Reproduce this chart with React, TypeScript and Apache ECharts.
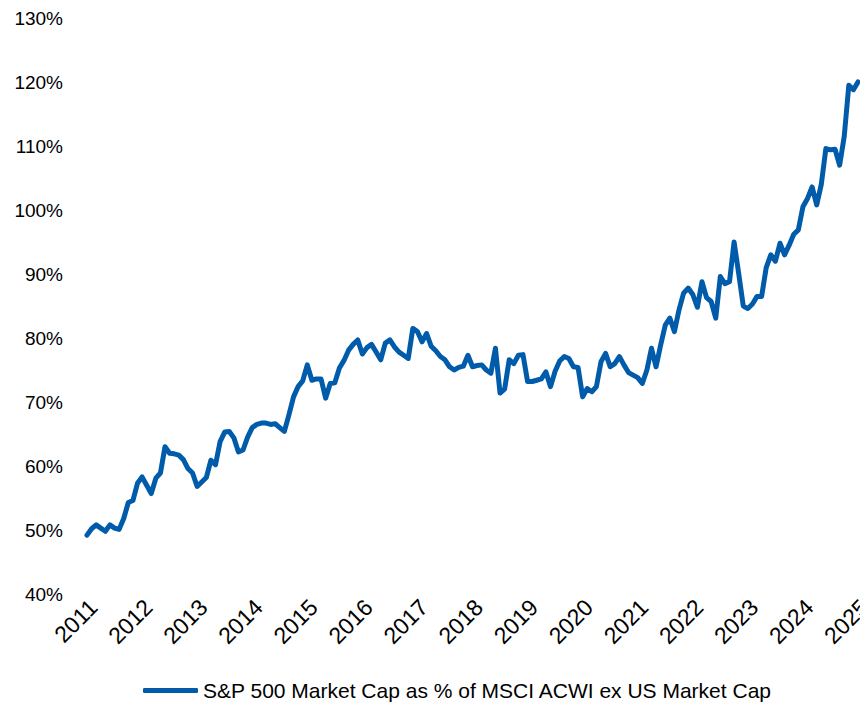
import React, { useEffect, useRef } from "react";
import * as echarts from "echarts";

const startYear = 2011;
const yearLabels = ["2011","2012","2013","2014","2015","2016","2017","2018","2019","2020","2021","2022","2023","2024","2025"];
const seriesName = "S&P 500 Market Cap as % of MSCI ACWI ex US Market Cap";

// Monthly values, Jan 2011 .. Jan 2025 (percent)
const values2011 = [49.2, 50.2, 50.8, 50.3, 49.8, 50.8, 50.3, 50.1, 51.8, 54.3, 54.6, 57.3];
const values2012 = [58.3, 57.0, 55.7, 58.1, 58.9, 63.0, 62.0, 61.9, 61.7, 61.0, 59.6, 58.9];
const values2013 = [56.8, 57.5, 58.2, 60.9, 60.2, 63.8, 65.3, 65.4, 64.4, 62.2, 62.5, 64.5];
const values2014 = [66.0, 66.5, 66.7, 66.7, 66.5, 66.6, 66.0, 65.4, 68.0, 70.8, 72.4, 73.3];
const values2015 = [75.8, 73.4, 73.6, 73.6, 70.6, 72.9, 73.0, 75.3, 76.5, 78.1, 79.0, 79.7];
const values2016 = [77.5, 78.5, 79.0, 77.8, 76.6, 79.2, 79.7, 78.6, 77.8, 77.3, 76.8, 81.5];
const values2017 = [81.0, 79.4, 80.7, 78.7, 78.0, 77.1, 76.6, 75.5, 75.0, 75.4, 75.6, 77.3];
const values2018 = [75.5, 75.7, 75.8, 75.0, 74.5, 78.4, 71.4, 72.0, 76.6, 76.0, 77.3, 77.4];
const values2019 = [73.2, 73.2, 73.4, 73.6, 74.7, 72.4, 74.8, 76.4, 77.1, 76.8, 75.5, 75.4];
const values2020 = [70.8, 72.1, 71.6, 72.4, 76.3, 77.6, 75.5, 76.0, 77.1, 75.8, 74.6, 74.2];
const values2021 = [73.8, 72.9, 75.0, 78.4, 75.5, 78.9, 82.0, 83.1, 81.0, 84.4, 87.0, 87.8];
const values2022 = [86.8, 84.8, 88.8, 86.3, 85.7, 83.1, 89.6, 88.5, 88.8, 95.0, 90.1, 85.0];
const values2023 = [84.6, 85.3, 86.5, 86.5, 91.0, 93.0, 92.0, 94.8, 93.0, 94.5, 96.2, 96.9];
const values2024 = [100.5, 101.8, 103.6, 100.8, 104.0, 109.6, 109.4, 109.5, 107.0, 111.5, 119.5, 118.8];
const values2025 = [120.0];

const values = [
  ...values2011, ...values2012, ...values2013, ...values2014, ...values2015,
  ...values2016, ...values2017, ...values2018, ...values2019, ...values2020,
  ...values2021, ...values2022, ...values2023, ...values2024, ...values2025,
];

const categories = values.map((_, i) => {
  const y = startYear + Math.floor(i / 12);
  const m = (i % 12) + 1;
  return `${y}-${m < 10 ? "0" + m : m}`;
});

const FONT = "Liberation Sans";

export default function App() {
  const ref = useRef<HTMLDivElement>(null);
  useEffect(() => {
    document.body.style.margin = "0";
    document.body.style.overflow = "hidden";
    if (!ref.current) return;
    const chart = echarts.init(ref.current, null, { renderer: "svg" });
    chart.setOption({
      animation: false,
      backgroundColor: "#ffffff",
      textStyle: { fontFamily: FONT },
      grid: {
        left: 87,
        right: 2,
        top: 18,
        bottom: 114,
        containLabel: false,
        outerBoundsMode: "none",
      },
      legend: {
        top: 680,
        left: 143,
        padding: 0,
        icon: "roundRect",
        itemWidth: 55,
        itemHeight: 5,
        itemGap: 10,
        textStyle: { fontFamily: FONT, fontSize: 21, color: "#000" },
        data: [seriesName],
      },
      xAxis: {
        type: "category",
        data: categories,
        boundaryGap: false,
        axisLine: { show: false },
        axisTick: { show: false },
        splitLine: { show: false },
        axisLabel: {
          interval: (idx: number) => idx % 12 === 0,
          formatter: (v: string) => {
            const y = v.slice(0, 4);
            return yearLabels.includes(y) ? y : "";
          },
          rotate: 45,
          margin: 3,
          verticalAlign: "top",
          lineHeight: 18,
          fontSize: 23,
          color: "#000",
          fontFamily: FONT,
        },
      },
      yAxis: {
        type: "value",
        min: 40,
        max: 130,
        interval: 10,
        axisLine: { show: false },
        axisTick: { show: false },
        splitLine: { show: false },
        axisLabel: {
          formatter: "{value}%",
          margin: 24,
          fontSize: 19,
          color: "#000",
          fontFamily: FONT,
        },
      },
      series: [
        {
          name: seriesName,
          type: "line",
          data: values,
          showSymbol: false,
          symbol: "none",
          lineStyle: { color: "#005BAA", width: 5, join: "round", cap: "round" },
          itemStyle: { color: "#005BAA" },
        },
      ],
    });
    return () => chart.dispose();
  }, []);
  return <div ref={ref} style={{ width: 860, height: 708 }} />;
}
